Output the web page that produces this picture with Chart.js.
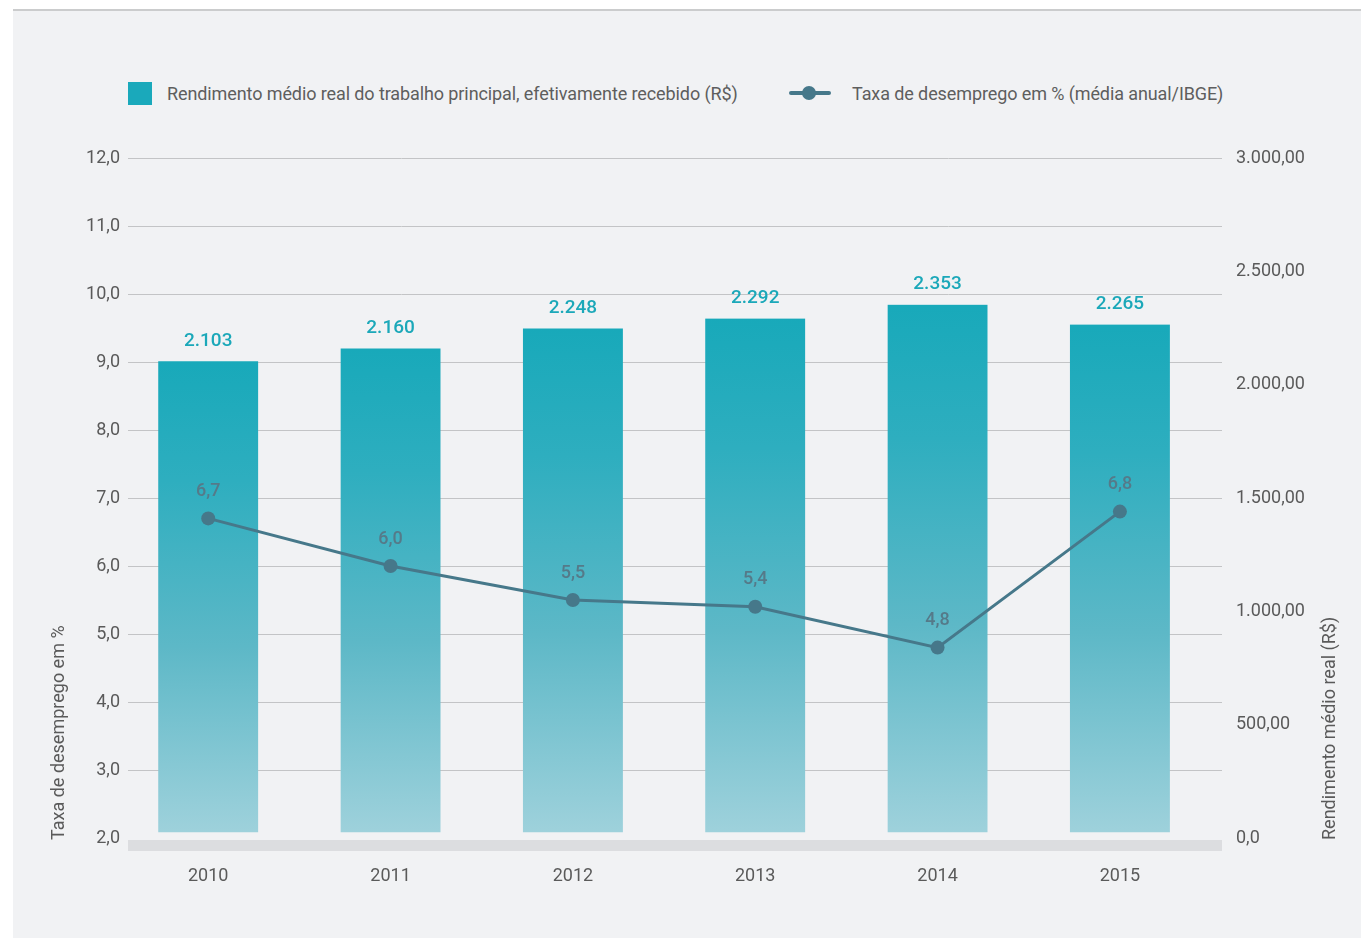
<!DOCTYPE html>
<html>
<head>
<meta charset="utf-8">
<title>Rendimento e desemprego</title>
<script src="https://cdn.jsdelivr.net/npm/chart.js@4.4.1/dist/chart.umd.min.js"></script>
<style>
    html, body { margin: 0; padding: 0; background: #ffffff; }
    body { width: 1361px; height: 938px; position: relative; overflow: hidden; font-family: Roboto, "Liberation Sans", sans-serif; }
    #panel { position: absolute; left: 13px; top: 9px; right: 0; bottom: 0; background: #f1f2f4; border-top: 2px solid #cbcccd; }
    #chart { position: absolute; left: 0; top: 0; }
    .legend-item { position: absolute; top: 80px; height: 26px; display: flex; align-items: center; color: #5e5e5e; font-size: 18px; white-space: nowrap; letter-spacing: -0.1px; }
    .legend-box { width: 24px; height: 23px; background: #1aa9bb; margin-right: 15px; }
    .legend-line { position: relative; width: 42px; height: 4px; background: #46788a; margin-right: 21px; border-radius: 2px; }
    .legend-line::after { content: ''; position: absolute; left: 13px; top: -5px; width: 14px; height: 14px; border-radius: 50%; background: #46788a; }
</style>
</head>
<body>
<div id="panel"></div>
<div class="legend-item" style="left:128px"><span class="legend-box"></span><span>Rendimento médio real do trabalho principal, efetivamente recebido (R$)</span></div>
<div class="legend-item" style="left:789px"><span class="legend-line"></span><span>Taxa de desemprego em % (média anual/IBGE)</span></div>
<canvas id="chart" width="1361" height="938"></canvas>
<script>
// Data
const years = ['2010', '2011', '2012', '2013', '2014', '2015'];
const rendimento = [2103, 2160, 2248, 2292, 2353, 2265];      // R$ (right axis)
const desemprego = [6.7, 6.0, 5.5, 5.4, 4.8, 6.8];            // % (left axis)
const leftTickLabels = ['2,0', '3,0', '4,0', '5,0', '6,0', '7,0', '8,0', '9,0', '10,0', '11,0', '12,0'];
const rightTickLabels = ['0,0', '500,00', '1.000,00', '1.500,00', '2.000,00', '2.500,00', '3.000,00'];

const textColor = '#5a5a5a';
const tealColor = '#1aa9bb';
const lineColor = '#46788a';

function formatThousands(v) {
    return String(v).replace(/\B(?=(\d{3})+(?!\d))/g, '.');
}

function formatDecimal(v) {
    return v.toFixed(1).replace('.', ',');
}

// Gradient per bar, from its top to the axis
function barGradient(context) {
    const chart = context.chart;
    if (!chart.chartArea || context.type !== 'data') return tealColor;
    const scale = chart.scales.y2;
    const top = scale.getPixelForValue(context.raw.y);
    const bottom = scale.getPixelForValue(0);
    const g = chart.ctx.createLinearGradient(0, top, 0, bottom);
    g.addColorStop(0, '#18a9ba');
    g.addColorStop(0.25, '#2eaebf');
    g.addColorStop(0.6, '#5db8c7');
    g.addColorStop(1, '#a0d2dc');
    return g;
}

const extrasPlugin = {
    id: 'extras',
    afterDatasetsDraw(chart) {
        const ctx = chart.ctx;
        ctx.save();
        ctx.textAlign = 'center';
        ctx.textBaseline = 'middle';

        // bar values
        const barMeta = chart.getDatasetMeta(1);
        ctx.font = '500 19px Roboto';
        ctx.fillStyle = '#1ba8b9';
        barMeta.data.forEach((bar, i) => {
            ctx.fillText(formatThousands(rendimento[i]), bar.x, bar.y - 20);
        });

        // line values
        const lineMeta = chart.getDatasetMeta(0);
        ctx.font = '500 18px Roboto';
        ctx.fillStyle = '#557a89';
        lineMeta.data.forEach((pt, i) => {
            ctx.fillText(formatDecimal(desemprego[i]), pt.x, pt.y - 27);
        });
        ctx.restore();
    },
    afterDraw(chart) {
        const ctx = chart.ctx;
        const area = chart.chartArea;
        ctx.save();

        // grey base band under the bars
        ctx.fillStyle = '#dcdde0';
        ctx.fillRect(area.left, area.bottom + 2, area.right - area.left, 11);

        // axis titles, both reading bottom to top
        ctx.font = '18px Roboto';
        ctx.fillStyle = textColor;
        ctx.textAlign = 'left';
        ctx.textBaseline = 'middle';

        ctx.save();
        ctx.translate(59, area.bottom + 2);
        ctx.rotate(-Math.PI / 2);
        ctx.fillText('Taxa de desemprego em %', 0, 0);
        ctx.restore();

        ctx.save();
        ctx.translate(1330, area.bottom + 2);
        ctx.rotate(-Math.PI / 2);
        ctx.fillText('Rendimento médio real (R$)', 0, 0);
        ctx.restore();

        ctx.restore();
    }
};

new Chart(document.getElementById('chart'), {
    data: {
        datasets: [
            {
                type: 'line',
                label: 'Taxa de desemprego em % (média anual/IBGE)',
                data: years.map((y, i) => ({ x: i, y: desemprego[i] })),
                yAxisID: 'y',
                borderColor: lineColor,
                backgroundColor: lineColor,
                borderWidth: 3,
                pointRadius: 7,
                pointBackgroundColor: lineColor,
                pointBorderWidth: 0,
                tension: 0,
                order: 1
            },
            {
                type: 'bar',
                label: 'Rendimento médio real do trabalho principal, efetivamente recebido (R$)',
                data: years.map((y, i) => ({ x: i, y: rendimento[i] })),
                yAxisID: 'y2',
                backgroundColor: barGradient,
                borderColor: '#f1f2f4',
                borderWidth: { top: 0, left: 0, right: 0, bottom: 6 },
                borderSkipped: false,
                barThickness: 100,
                order: 2
            }
        ]
    },
    options: {
        responsive: false,
        animation: false,
        devicePixelRatio: 1,
        layout: { padding: { top: 158, left: 0, right: 0, bottom: 0 } },
        plugins: {
            legend: { display: false },
            tooltip: { enabled: false }
        },
        scales: {
            x: {
                type: 'linear',
                offset: false,
                min: -0.44,
                max: 5.56,
                afterBuildTicks: scale => { scale.ticks = years.map((y, i) => ({ value: i })); },
                afterFit: scale => { scale.height = 100; },
                grid: { display: false, drawTicks: false, offset: false },
                border: { display: false },
                ticks: {
                    padding: 28,
                    autoSkip: false,
                    maxRotation: 0,
                    color: textColor,
                    font: { family: 'Roboto', size: 18 },
                    callback: (value, index) => years[index]
                }
            },
            y: {
                position: 'left',
                min: 2,
                max: 12,
                afterFit: scale => { scale.width = 128; },
                grid: {
                    drawTicks: false,
                    color: ctx => ctx.tick.value === 2 ? 'rgba(0,0,0,0)' : '#c3c4c6',
                    lineWidth: 1
                },
                border: { display: false },
                ticks: {
                    stepSize: 1,
                    padding: 8,
                    color: textColor,
                    font: { family: 'Roboto', size: 18 },
                    callback: (value, index) => leftTickLabels[index]
                }
            },
            y2: {
                position: 'right',
                min: 0,
                max: 3000,
                afterFit: scale => { scale.width = 139; },
                grid: { display: false, drawTicks: false },
                border: { display: false },
                ticks: {
                    stepSize: 500,
                    padding: 14,
                    color: textColor,
                    font: { family: 'Roboto', size: 18 },
                    callback: (value, index) => rightTickLabels[index]
                }
            }
        }
    },
    plugins: [extrasPlugin]
});
</script>
</body>
</html>
